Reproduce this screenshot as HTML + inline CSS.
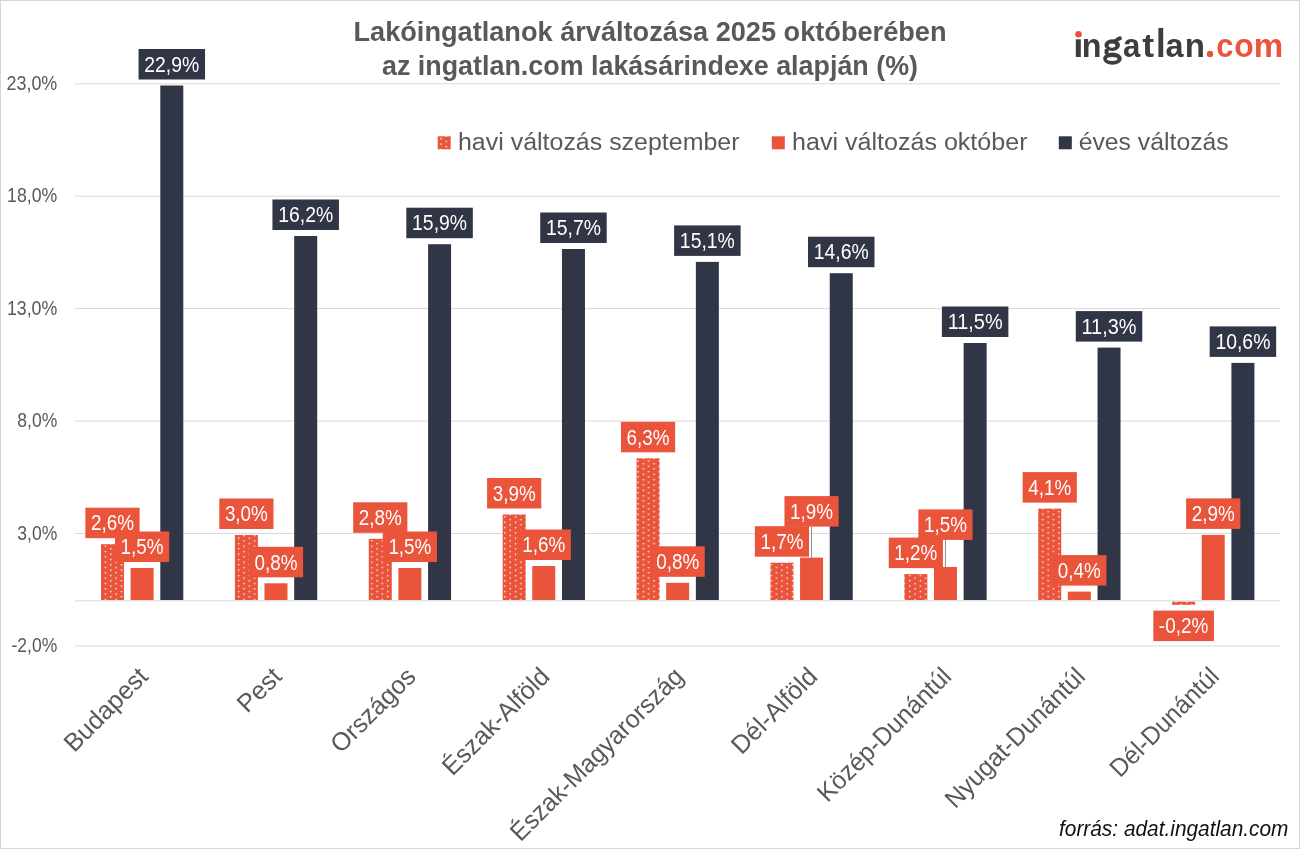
<!DOCTYPE html>
<html><head><meta charset="utf-8"><style>
html,body{margin:0;padding:0;background:#fff;}
body{width:1300px;height:849px;overflow:hidden;}
svg{display:block;will-change:transform;}
text{font-family:"Liberation Sans",sans-serif;}
.tt{font-size:28px;font-weight:bold;fill:#595959;}
.ya{font-size:19.5px;fill:#595959;}
.lb{font-size:22.2px;fill:#fff;}
.lg{font-size:24.7px;fill:#595959;}
.xl{font-size:25.5px;fill:#595959;}
.src{font-size:21.5px;font-style:italic;fill:#111;}
.logo{font-size:33.4px;font-weight:bold;}
</style></head><body>
<svg width="1300" height="849" viewBox="0 0 1300 849">
<defs><pattern id="dots" patternUnits="userSpaceOnUse" width="10.652" height="5.326" x="3.61" y="4.91">
<rect width="10.652" height="5.326" fill="#E9543A"/>
<rect x="0" y="0" width="1.33" height="1.33" fill="#fff"/>
<rect x="5.326" y="2.663" width="1.33" height="1.33" fill="#fff"/>
<rect x="0" y="5.326" width="1.33" height="1.33" fill="#fff"/>
<rect x="5.326" y="-2.663" width="1.33" height="1.33" fill="#fff"/>
</pattern></defs>
<rect x="0" y="0" width="1300" height="849" fill="#fff"/>
<rect x="0" y="0" width="1300" height="1" fill="#D6D6D6"/>
<rect x="0" y="0" width="1" height="849" fill="#D6D6D6"/>
<rect x="1299" y="0" width="1" height="849" fill="#D6D6D6"/>
<rect x="0" y="848" width="1300" height="1" fill="#D6D6D6"/>
<text x="650" y="40.5" text-anchor="middle" class="tt" textLength="593" lengthAdjust="spacingAndGlyphs">Lakóingatlanok árváltozása 2025 októberében</text>
<text x="650" y="75.2" text-anchor="middle" class="tt" textLength="536" lengthAdjust="spacingAndGlyphs">az ingatlan.com lakásárindexe alapján (%)</text>
<rect x="1075.8" y="39.3" width="5" height="17.7" fill="#3d3d3d"/><circle cx="1078.5" cy="34.3" r="3.3" fill="#E9543A"/><text transform="translate(1081.87,57.0) scale(0.967,1)" class="logo" fill="#3d3d3d">n</text><path d="M1104.40,45.05 a7.80,5.85 0 1,0 15.60,0 a7.80,5.85 0 1,0 -15.60,0 ZM1108.60,45.60 a3.40,2.10 0 1,0 6.80,0 a3.40,2.10 0 1,0 -6.80,0 Z" fill="#3d3d3d" fill-rule="evenodd"/><path d="M1103.10,58.55 a9.35,6.15 0 1,0 18.70,0 a9.35,6.15 0 1,0 -18.70,0 ZM1106.90,58.95 a5.30,1.95 0 1,0 10.60,0 a5.30,1.95 0 1,0 -10.60,0 Z" fill="#3d3d3d" fill-rule="evenodd"/><rect x="1104.6" y="49" width="4" height="5" fill="#3d3d3d"/><path d="M1113.5,40 L1118.5,36.6 L1121.6,36.6 L1121.6,39.8 L1117,41.5 Z" fill="#3d3d3d"/><text transform="translate(1123.09,57.0) scale(0.932,1)" class="logo" fill="#3d3d3d">a</text><text transform="translate(1142.36,57.0) scale(1.067,1)" class="logo" fill="#3d3d3d">t</text><rect x="1158.4" y="27.9" width="4.8" height="29.1" fill="#3d3d3d"/><text transform="translate(1165.55,57.0) scale(0.971,1)" class="logo" fill="#3d3d3d">a</text><text transform="translate(1184.82,57.0) scale(0.992,1)" class="logo" fill="#3d3d3d">n</text><circle cx="1210" cy="54" r="3.2" fill="#E9543A"/><text transform="translate(1216.30,57.0) scale(0.921,1)" class="logo" fill="#E9543A">c</text><text transform="translate(1234.25,57.0) scale(0.955,1)" class="logo" fill="#E9543A">o</text><text transform="translate(1253.82,57.0) scale(0.991,1)" class="logo" fill="#E9543A">m</text>
<rect x="75" y="83.30" width="1205" height="1" fill="#D9D9D9"/><text x="57.3" y="89.80" text-anchor="end" class="ya" textLength="50.8" lengthAdjust="spacingAndGlyphs">23,0%</text><rect x="75" y="195.70" width="1205" height="1" fill="#D9D9D9"/><text x="57.3" y="202.20" text-anchor="end" class="ya" textLength="50.2" lengthAdjust="spacingAndGlyphs">18,0%</text><rect x="75" y="308.10" width="1205" height="1" fill="#D9D9D9"/><text x="57.3" y="314.60" text-anchor="end" class="ya" textLength="50.4" lengthAdjust="spacingAndGlyphs">13,0%</text><rect x="75" y="420.60" width="1205" height="1" fill="#D9D9D9"/><text x="57.3" y="427.10" text-anchor="end" class="ya" textLength="40" lengthAdjust="spacingAndGlyphs">8,0%</text><rect x="75" y="533.00" width="1205" height="1" fill="#D9D9D9"/><text x="57.3" y="539.50" text-anchor="end" class="ya" textLength="40" lengthAdjust="spacingAndGlyphs">3,0%</text><rect x="75" y="600.35" width="1205" height="1" fill="#D9D9D9"/><rect x="75" y="645.40" width="1205" height="1" fill="#D9D9D9"/><text x="57.3" y="651.90" text-anchor="end" class="ya" textLength="45.8" lengthAdjust="spacingAndGlyphs">-2,0%</text>
<rect x="437.7" y="136.3" width="13" height="13" fill="url(#dots)"/>
<text x="458" y="150" class="lg" textLength="281.5" lengthAdjust="spacingAndGlyphs">havi változás szeptember</text>
<rect x="771.8" y="136.3" width="13" height="13" fill="#E9543A"/>
<text x="792" y="150" class="lg" textLength="235.5" lengthAdjust="spacingAndGlyphs">havi változás október</text>
<rect x="1058.8" y="136.3" width="13" height="13" fill="#313647"/>
<text x="1078.7" y="150" class="lg" textLength="150" lengthAdjust="spacingAndGlyphs">éves változás</text>
<rect x="101.00" y="544.20" width="23.0" height="55.80" fill="url(#dots)"/><rect x="130.60" y="568.00" width="23.0" height="32.00" fill="#E9543A"/><rect x="160.30" y="85.50" width="23.0" height="514.50" fill="#313647"/><rect x="234.89" y="535.00" width="23.0" height="65.00" fill="url(#dots)"/><rect x="264.49" y="583.30" width="23.0" height="16.70" fill="#E9543A"/><rect x="294.19" y="236.00" width="23.0" height="364.00" fill="#313647"/><rect x="368.78" y="538.80" width="23.0" height="61.20" fill="url(#dots)"/><rect x="398.38" y="568.00" width="23.0" height="32.00" fill="#E9543A"/><rect x="428.08" y="244.20" width="23.0" height="355.80" fill="#313647"/><rect x="502.67" y="514.50" width="23.0" height="85.50" fill="url(#dots)"/><rect x="532.27" y="566.00" width="23.0" height="34.00" fill="#E9543A"/><rect x="561.97" y="249.00" width="23.0" height="351.00" fill="#313647"/><rect x="636.56" y="458.30" width="23.0" height="141.70" fill="url(#dots)"/><rect x="666.16" y="582.80" width="23.0" height="17.20" fill="#E9543A"/><rect x="695.86" y="261.90" width="23.0" height="338.10" fill="#313647"/><rect x="770.45" y="562.70" width="23.0" height="37.30" fill="url(#dots)"/><rect x="800.05" y="557.60" width="23.0" height="42.40" fill="#E9543A"/><rect x="829.75" y="273.20" width="23.0" height="326.80" fill="#313647"/><rect x="904.34" y="574.10" width="23.0" height="25.90" fill="url(#dots)"/><rect x="933.94" y="567.00" width="23.0" height="33.00" fill="#E9543A"/><rect x="963.64" y="343.00" width="23.0" height="257.00" fill="#313647"/><rect x="1038.23" y="508.60" width="23.0" height="91.40" fill="url(#dots)"/><rect x="1067.83" y="591.60" width="23.0" height="8.40" fill="#E9543A"/><rect x="1097.53" y="347.60" width="23.0" height="252.40" fill="#313647"/><rect x="1172.12" y="601.7" width="23.0" height="3.1" fill="url(#dots)"/><rect x="1201.72" y="534.90" width="23.0" height="65.10" fill="#E9543A"/><rect x="1231.42" y="362.90" width="23.0" height="237.10" fill="#313647"/>
<rect x="85.40" y="507.70" width="54.2" height="30.5" fill="#E9543A"/><text x="112.50" y="530.45" text-anchor="middle" class="lb" textLength="43" lengthAdjust="spacingAndGlyphs">2,6%</text><rect x="115.00" y="531.50" width="54.2" height="30.5" fill="#E9543A"/><text x="142.10" y="554.25" text-anchor="middle" class="lb" textLength="43" lengthAdjust="spacingAndGlyphs">1,5%</text><rect x="138.55" y="49.00" width="66.5" height="30.5" fill="#313647"/><text x="171.80" y="71.75" text-anchor="middle" class="lb" textLength="55" lengthAdjust="spacingAndGlyphs">22,9%</text><rect x="219.29" y="498.50" width="54.2" height="30.5" fill="#E9543A"/><text x="246.39" y="521.25" text-anchor="middle" class="lb" textLength="43" lengthAdjust="spacingAndGlyphs">3,0%</text><rect x="248.89" y="546.80" width="54.2" height="30.5" fill="#E9543A"/><text x="275.99" y="569.55" text-anchor="middle" class="lb" textLength="43" lengthAdjust="spacingAndGlyphs">0,8%</text><rect x="272.44" y="199.50" width="66.5" height="30.5" fill="#313647"/><text x="305.69" y="222.25" text-anchor="middle" class="lb" textLength="55" lengthAdjust="spacingAndGlyphs">16,2%</text><rect x="353.18" y="502.30" width="54.2" height="30.5" fill="#E9543A"/><text x="380.28" y="525.05" text-anchor="middle" class="lb" textLength="43" lengthAdjust="spacingAndGlyphs">2,8%</text><rect x="382.78" y="531.50" width="54.2" height="30.5" fill="#E9543A"/><text x="409.88" y="554.25" text-anchor="middle" class="lb" textLength="43" lengthAdjust="spacingAndGlyphs">1,5%</text><rect x="406.33" y="207.70" width="66.5" height="30.5" fill="#313647"/><text x="439.58" y="230.45" text-anchor="middle" class="lb" textLength="55" lengthAdjust="spacingAndGlyphs">15,9%</text><rect x="487.07" y="478.00" width="54.2" height="30.5" fill="#E9543A"/><text x="514.17" y="500.75" text-anchor="middle" class="lb" textLength="43" lengthAdjust="spacingAndGlyphs">3,9%</text><rect x="516.67" y="529.50" width="54.2" height="30.5" fill="#E9543A"/><text x="543.77" y="552.25" text-anchor="middle" class="lb" textLength="43" lengthAdjust="spacingAndGlyphs">1,6%</text><rect x="540.22" y="212.50" width="66.5" height="30.5" fill="#313647"/><text x="573.47" y="235.25" text-anchor="middle" class="lb" textLength="55" lengthAdjust="spacingAndGlyphs">15,7%</text><rect x="620.96" y="421.80" width="54.2" height="30.5" fill="#E9543A"/><text x="648.06" y="444.55" text-anchor="middle" class="lb" textLength="43" lengthAdjust="spacingAndGlyphs">6,3%</text><rect x="650.56" y="546.30" width="54.2" height="30.5" fill="#E9543A"/><text x="677.66" y="569.05" text-anchor="middle" class="lb" textLength="43" lengthAdjust="spacingAndGlyphs">0,8%</text><rect x="674.11" y="225.40" width="66.5" height="30.5" fill="#313647"/><text x="707.36" y="248.15" text-anchor="middle" class="lb" textLength="55" lengthAdjust="spacingAndGlyphs">15,1%</text><rect x="754.85" y="526.20" width="54.2" height="30.5" fill="#E9543A"/><text x="781.95" y="548.95" text-anchor="middle" class="lb" textLength="43" lengthAdjust="spacingAndGlyphs">1,7%</text><rect x="811.05" y="526.60" width="1" height="31.00" fill="#8c8c8c"/><rect x="784.45" y="496.10" width="54.2" height="30.5" fill="#E9543A"/><text x="811.55" y="518.85" text-anchor="middle" class="lb" textLength="43" lengthAdjust="spacingAndGlyphs">1,9%</text><rect x="808.00" y="236.70" width="66.5" height="30.5" fill="#313647"/><text x="841.25" y="259.45" text-anchor="middle" class="lb" textLength="55" lengthAdjust="spacingAndGlyphs">14,6%</text><rect x="888.74" y="537.60" width="54.2" height="30.5" fill="#E9543A"/><text x="915.84" y="560.35" text-anchor="middle" class="lb" textLength="43" lengthAdjust="spacingAndGlyphs">1,2%</text><rect x="944.94" y="539.90" width="1" height="27.10" fill="#8c8c8c"/><rect x="918.34" y="509.40" width="54.2" height="30.5" fill="#E9543A"/><text x="945.44" y="532.15" text-anchor="middle" class="lb" textLength="43" lengthAdjust="spacingAndGlyphs">1,5%</text><rect x="941.89" y="306.50" width="66.5" height="30.5" fill="#313647"/><text x="975.14" y="329.25" text-anchor="middle" class="lb" textLength="55" lengthAdjust="spacingAndGlyphs">11,5%</text><rect x="1022.63" y="472.10" width="54.2" height="30.5" fill="#E9543A"/><text x="1049.73" y="494.85" text-anchor="middle" class="lb" textLength="43" lengthAdjust="spacingAndGlyphs">4,1%</text><rect x="1052.23" y="555.10" width="54.2" height="30.5" fill="#E9543A"/><text x="1079.33" y="577.85" text-anchor="middle" class="lb" textLength="43" lengthAdjust="spacingAndGlyphs">0,4%</text><rect x="1075.78" y="311.10" width="66.5" height="30.5" fill="#313647"/><text x="1109.03" y="333.85" text-anchor="middle" class="lb" textLength="55" lengthAdjust="spacingAndGlyphs">11,3%</text><rect x="1153.32" y="610.60" width="60.6" height="30.5" fill="#E9543A"/><text x="1183.62" y="633.35" text-anchor="middle" class="lb" textLength="49.5" lengthAdjust="spacingAndGlyphs">-0,2%</text><rect x="1186.12" y="498.40" width="54.2" height="30.5" fill="#E9543A"/><text x="1213.22" y="521.15" text-anchor="middle" class="lb" textLength="43" lengthAdjust="spacingAndGlyphs">2,9%</text><rect x="1209.67" y="326.40" width="66.5" height="30.5" fill="#313647"/><text x="1242.92" y="349.15" text-anchor="middle" class="lb" textLength="55" lengthAdjust="spacingAndGlyphs">10,6%</text>
<text transform="translate(149.44,678) rotate(-45)" text-anchor="end" class="xl" textLength="106.5" lengthAdjust="spacingAndGlyphs">Budapest</text><text transform="translate(283.33,678) rotate(-45)" text-anchor="end" class="xl" textLength="51.03" lengthAdjust="spacingAndGlyphs">Pest</text><text transform="translate(417.22,678) rotate(-45)" text-anchor="end" class="xl" textLength="108" lengthAdjust="spacingAndGlyphs">Országos</text><text transform="translate(551.12,678) rotate(-45)" text-anchor="end" class="xl" textLength="139.6" lengthAdjust="spacingAndGlyphs">Észak-Alföld</text><text transform="translate(685.00,678) rotate(-45)" text-anchor="end" class="xl" textLength="232.7" lengthAdjust="spacingAndGlyphs">Észak-Magyarország</text><text transform="translate(818.89,678) rotate(-45)" text-anchor="end" class="xl" textLength="109.5" lengthAdjust="spacingAndGlyphs">Dél-Alföld</text><text transform="translate(952.78,678) rotate(-45)" text-anchor="end" class="xl" textLength="177.1" lengthAdjust="spacingAndGlyphs">Közép-Dunántúl</text><text transform="translate(1086.67,678) rotate(-45)" text-anchor="end" class="xl" textLength="186" lengthAdjust="spacingAndGlyphs">Nyugat-Dunántúl</text><text transform="translate(1220.56,678) rotate(-45)" text-anchor="end" class="xl" textLength="142.3" lengthAdjust="spacingAndGlyphs">Dél-Dunántúl</text>
<text x="1059" y="835.6" class="src" textLength="229.5" lengthAdjust="spacingAndGlyphs">forrás: adat.ingatlan.com</text>
</svg>
</body></html>
